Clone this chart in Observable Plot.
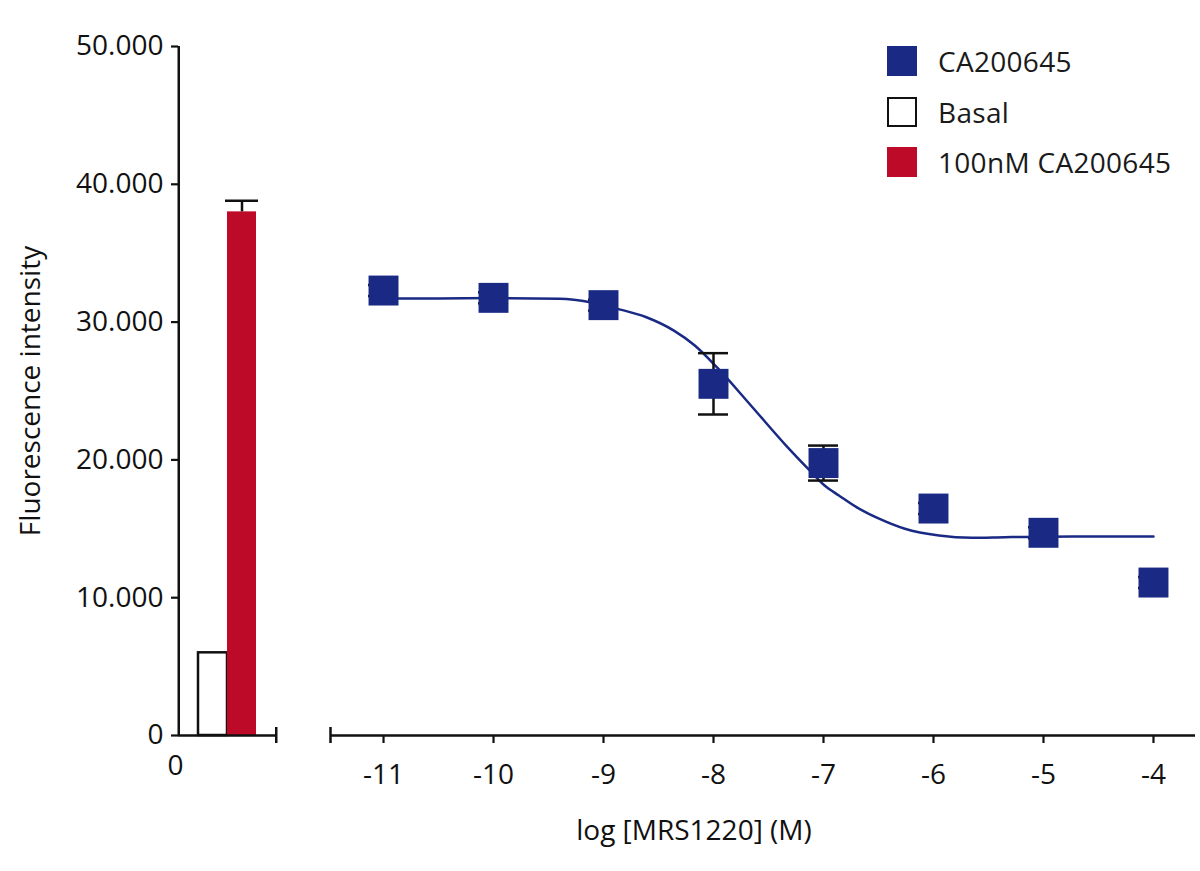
<!DOCTYPE html>
<html>
<head>
<meta charset="utf-8">
<script src="https://cdn.jsdelivr.net/npm/d3@7"></script>
<script src="https://cdn.jsdelivr.net/npm/@observablehq/plot@0.6"></script>
<style>
  body { margin: 0; background: #fff; font-family: "Open Sans", sans-serif; }
  #wrap { position: relative; width: 1200px; height: 871px; overflow: hidden; }
  #left, #right { position: absolute; top: 0; }
  #left { left: 0; }
  #right { left: 290px; }
  .lg-row { position: absolute; left: 887px; display: flex; align-items: center; height: 30px; }
  .lg-sw { width: 30px; height: 30px; box-sizing: border-box; margin-right: 21px; }
  .lg-tx { font-size: 28px; color: #1a1a1a; line-height: 30px; white-space: nowrap; letter-spacing: 0.3px; }
  svg [aria-label$="axis tick"], svg [aria-label="x-axis"] line, svg [aria-label="y-axis"] line { stroke-width: 2.2; }
</style>
</head>
<body>
<div id="wrap">
  <div id="left"></div>
  <div id="right"></div>
</div>
<script>
// ---- data ----
const yTicks = [0, 10000, 20000, 30000, 40000, 50000];
const xTicks = [-11, -10, -9, -8, -7, -6, -5, -4];

// bar panel
const barLabels = ["Basal", "100nM CA200645"];
const barValues = [6000, 38000];
const barErrors = [0, 800];

// dose-response points (log [MRS1220] in M)
const logConc = [-11, -10, -9, -8, -7, -6, -5, -4];
const meanFluor = [32290, 31760, 31230, 25520, 19770, 16470, 14710, 11100];
const semFluor = [400, 400, 400, 2225, 1270, 400, 400, 400];

// fitted curve
const curveLogX = [-11, -10.5, -10, -9.4, -9.12, -8.87, -8.61, -8.36, -8.17, -7.97, -7.66, -7.34, -7.11, -6.99, -6.86, -6.7, -6.5, -6.26, -5.95, -5.65, -5.35, -4.74, -4];
const curveFluor = [31720, 31720, 31740, 31690, 31440, 30960, 30350, 29380, 28300, 26730, 23950, 21040, 19110, 18140, 17420, 16570, 15750, 15000, 14510, 14350, 14390, 14440, 14440];

// legend
const legendLabels = ["CA200645", "Basal", "100nM CA200645"];
const legendFills = ["#1a2a84", "#ffffff", "#bd0a28"];
const legendStrokes = ["none", "#111111", "none"];

const xTitle = "log [MRS1220] (M)";
const yTitle = "Fluorescence intensity";

// ---- styles ----
const navy = "#1a2a84";
const red = "#bd0a28";
const ink = "#111111";
const font = {fontFamily: "'Open Sans', sans-serif", fontSize: "28px", color: ink, background: "transparent"};
const fmtY = d => d3.format(",")(d).replace(/,/g, ".");

// ---- tables ----
const bars = barLabels.map((label, i) => ({label, value: barValues[i], err: barErrors[i], fill: i === 0 ? "#ffffff" : red, stroke: i === 0 ? ink : "none"}));
const barErr = bars.filter(d => d.err > 0);
const points = logConc.map((x, i) => ({x, y: meanFluor[i], lo: meanFluor[i] - semFluor[i], hi: meanFluor[i] + semFluor[i]}));
const curve = curveLogX.map((x, i) => ({x, y: curveFluor[i]}));

const H = 871, MT = 46, MB = 136;

// left panel: bars + y axis
const bandHalf = 34.25; // half band + outer padding in px
const left = Plot.plot({
  width: 290, height: H,
  marginLeft: 178, marginRight: 14, marginTop: MT, marginBottom: MB,
  style: font,
  x: {type: "band", domain: barLabels, paddingInner: 0, paddingOuter: 0.661, axis: null},
  y: {domain: [0, 50000], ticks: yTicks, tickSize: 7, tickPadding: 8, tickFormat: fmtY, label: null},
  marks: [
    Plot.barY(bars, {x: "label", y: "value", fill: "fill", stroke: "stroke", strokeWidth: 2.5}),
    Plot.ruleX(barErr, {x: "label", y1: "value", y2: d => d.value + d.err, stroke: ink, strokeWidth: 2.5}),
    Plot.tickY(barErr, {x: "label", y: d => d.value + d.err, stroke: ink, strokeWidth: 2.5, insetLeft: -2, insetRight: -2}),
    Plot.ruleX([barLabels[0]], {y1: 0, y2: 50000, dx: -bandHalf, stroke: ink, strokeWidth: 2.5}),
    Plot.ruleY([0], {stroke: ink, strokeWidth: 2.5}),
    Plot.ruleX([barLabels[1]], {y1: 0, y2: 0, insetTop: -8, insetBottom: -8, dx: bandHalf, stroke: ink, strokeWidth: 2.5}),
    Plot.text(["0"], {frameAnchor: "bottom-left", textAnchor: "middle", dx: -3, dy: 39, fontSize: 28, fill: ink}),
    Plot.text([yTitle], {frameAnchor: "left", textAnchor: "middle", dx: -147, rotate: -90, fontSize: 28, fill: ink})
  ]
});
document.getElementById("left").append(left);

// right panel: dose response
const right = Plot.plot({
  width: 910, height: H,
  marginLeft: 40, marginRight: 5, marginTop: MT, marginBottom: MB,
  style: font,
  x: {domain: [-11.482, -3.618], ticks: xTicks, tickSize: 8, tickPadding: 21, tickFormat: d => String(d), label: null},
  y: {domain: [0, 50000], axis: null},
  marks: [
    Plot.ruleY([0], {stroke: ink, strokeWidth: 2.5}),
    Plot.ruleX([-11.482], {y1: 0, y2: 0, insetTop: -8, insetBottom: -8, stroke: ink, strokeWidth: 2.5}),
    Plot.line(curve, {x: "x", y: "y", stroke: navy, strokeWidth: 2.5, curve: "monotone-x"}),
    Plot.ruleX(points, {x: "x", y1: "lo", y2: "hi", stroke: ink, strokeWidth: 2.5}),
    Plot.ruleY(points, {y: "lo", x1: "x", x2: "x", insetLeft: -15, insetRight: -15, stroke: ink, strokeWidth: 2.5}),
    Plot.ruleY(points, {y: "hi", x1: "x", x2: "x", insetLeft: -15, insetRight: -15, stroke: ink, strokeWidth: 2.5}),
    Plot.dot(points, {x: "x", y: "y", symbol: "square", r: 16.9, fill: navy, stroke: "none"}),
    Plot.text([xTitle], {frameAnchor: "bottom", dx: -69, dy: 104, fontSize: 28, fill: ink})
  ]
});
document.getElementById("right").append(right);

// legend
const wrap = document.getElementById("wrap");
legendLabels.forEach((label, i) => {
  const row = document.createElement("div");
  row.className = "lg-row";
  row.style.top = (46 + i * 50.5) + "px";
  const sw = document.createElement("div");
  sw.className = "lg-sw";
  sw.style.background = legendFills[i];
  if (legendStrokes[i] !== "none") sw.style.border = "2.5px solid " + legendStrokes[i];
  const tx = document.createElement("div");
  tx.className = "lg-tx";
  tx.textContent = label;
  row.append(sw, tx);
  wrap.append(row);
});
</script>
</body>
</html>
